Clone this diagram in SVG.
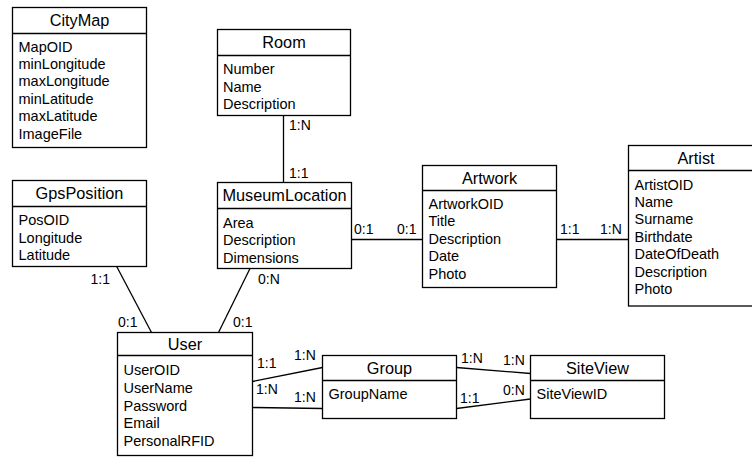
<svg xmlns="http://www.w3.org/2000/svg" width="752" height="458" viewBox="0 0 752 458">
<style>
rect.box{fill:#fff;stroke:#000;stroke-width:1.3}
line.hd{stroke:#000;stroke-width:1.3}
.conn line{stroke:#000;stroke-width:1.3}
text{font-family:"Liberation Sans",Arial,sans-serif;fill:#000}
.t{font-size:16.3px;text-anchor:middle}
.a{font-size:14.5px}
.l{font-size:14px}
</style>
<rect width="752" height="458" fill="#fff"/>
<g class="conn" id="connectors">
<line x1="283.5" y1="115.5" x2="283.5" y2="182.5"/>
<line x1="116.7" y1="266.5" x2="151.5" y2="332.5"/>
<line x1="250" y1="268.5" x2="218.5" y2="332.5"/>
<line x1="351.5" y1="239.5" x2="422.5" y2="239.5"/>
<line x1="556.5" y1="239.5" x2="628.5" y2="239.5"/>
<line x1="252.5" y1="381.5" x2="322.5" y2="367.5"/>
<line x1="252.5" y1="407.5" x2="322.5" y2="408.5"/>
<line x1="456.5" y1="367.5" x2="530.5" y2="373.5"/>
<line x1="456.5" y1="408.5" x2="530.5" y2="399"/>
<text class="l" x="289" y="130">1:N</text>
<text class="l" x="289" y="178">1:1</text>
<text class="l" x="90.5" y="283.5">1:1</text>
<text class="l" x="118" y="326.5">0:1</text>
<text class="l" x="258" y="283.5">0:N</text>
<text class="l" x="233" y="326.5">0:1</text>
<text class="l" x="354" y="234">0:1</text>
<text class="l" x="397" y="234">0:1</text>
<text class="l" x="560" y="234">1:1</text>
<text class="l" x="600" y="234">1:N</text>
<text class="l" x="257" y="368">1:1</text>
<text class="l" x="294" y="360">1:N</text>
<text class="l" x="256" y="394">1:N</text>
<text class="l" x="294" y="401.5">1:N</text>
<text class="l" x="461" y="363">1:N</text>
<text class="l" x="503" y="365">1:N</text>
<text class="l" x="460" y="403">1:1</text>
<text class="l" x="503" y="395">0:N</text>
</g>
<g id="CityMap">
<rect class="box" x="12.5" y="7.5" width="134" height="140"/>
<line class="hd" x1="12.5" y1="33.5" x2="146.5" y2="33.5"/>
<text class="t" x="79.5" y="25.5">CityMap</text>
<text class="a" x="18.5" y="51.5">MapOID</text>
<text class="a" x="18.5" y="68.9">minLongitude</text>
<text class="a" x="18.5" y="86.3">maxLongitude</text>
<text class="a" x="18.5" y="103.7">minLatitude</text>
<text class="a" x="18.5" y="121.1">maxLatitude</text>
<text class="a" x="18.5" y="138.5">ImageFile</text>
</g>
<g id="Room">
<rect class="box" x="217.5" y="29.5" width="133" height="86"/>
<line class="hd" x1="217.5" y1="55.5" x2="350.5" y2="55.5"/>
<text class="t" x="284" y="47.7">Room</text>
<text class="a" x="223" y="74">Number</text>
<text class="a" x="223" y="91.5">Name</text>
<text class="a" x="223" y="109">Description</text>
</g>
<g id="GpsPosition">
<rect class="box" x="12.5" y="180.5" width="134" height="86"/>
<line class="hd" x1="12.5" y1="206.5" x2="146.5" y2="206.5"/>
<text class="t" x="79.5" y="199">GpsPosition</text>
<text class="a" x="18.5" y="225">PosOID</text>
<text class="a" x="18.5" y="242.5">Longitude</text>
<text class="a" x="18.5" y="260">Latitude</text>
</g>
<g id="MuseumLocation">
<rect class="box" x="217.5" y="182.5" width="134" height="86"/>
<line class="hd" x1="217.5" y1="208.5" x2="351.5" y2="208.5"/>
<text class="t" x="284.5" y="201">MuseumLocation</text>
<text class="a" x="223" y="227.5">Area</text>
<text class="a" x="223" y="245">Description</text>
<text class="a" x="223" y="262.5">Dimensions</text>
</g>
<g id="Artwork">
<rect class="box" x="422.5" y="165.5" width="134" height="122"/>
<line class="hd" x1="422.5" y1="190.5" x2="556.5" y2="190.5"/>
<text class="t" x="489.5" y="183.5">Artwork</text>
<text class="a" x="428.5" y="209">ArtworkOID</text>
<text class="a" x="428.5" y="226.4">Title</text>
<text class="a" x="428.5" y="243.8">Description</text>
<text class="a" x="428.5" y="261.2">Date</text>
<text class="a" x="428.5" y="278.6">Photo</text>
</g>
<g id="Artist">
<rect class="box" x="628.5" y="145.5" width="135" height="160.5"/>
<line class="hd" x1="628.5" y1="170.5" x2="763.5" y2="170.5"/>
<text class="t" x="696" y="163.5">Artist</text>
<text class="a" x="634.5" y="189.5">ArtistOID</text>
<text class="a" x="634.5" y="206.9">Name</text>
<text class="a" x="634.5" y="224.3">Surname</text>
<text class="a" x="634.5" y="241.7">Birthdate</text>
<text class="a" x="634.5" y="259.1">DateOfDeath</text>
<text class="a" x="634.5" y="276.5">Description</text>
<text class="a" x="634.5" y="293.9">Photo</text>
</g>
<g id="User">
<rect class="box" x="117.5" y="332.5" width="135" height="123"/>
<line class="hd" x1="117.5" y1="355.5" x2="252.5" y2="355.5"/>
<text class="t" x="185" y="349.5">User</text>
<text class="a" x="123.5" y="375">UserOID</text>
<text class="a" x="123.5" y="392.8">UserName</text>
<text class="a" x="123.5" y="410.6">Password</text>
<text class="a" x="123.5" y="428.4">Email</text>
<text class="a" x="123.5" y="446.2">PersonalRFID</text>
</g>
<g id="Group">
<rect class="box" x="322.5" y="355.5" width="134" height="63"/>
<line class="hd" x1="322.5" y1="380.5" x2="456.5" y2="380.5"/>
<text class="t" x="389.5" y="373.5">Group</text>
<text class="a" x="328.5" y="398.5">GroupName</text>
</g>
<g id="SiteView">
<rect class="box" x="530.5" y="355.5" width="134" height="63"/>
<line class="hd" x1="530.5" y1="380.5" x2="664.5" y2="380.5"/>
<text class="t" x="597.5" y="373.5">SiteView</text>
<text class="a" x="536.5" y="398.5">SiteViewID</text>
</g>
</svg>
